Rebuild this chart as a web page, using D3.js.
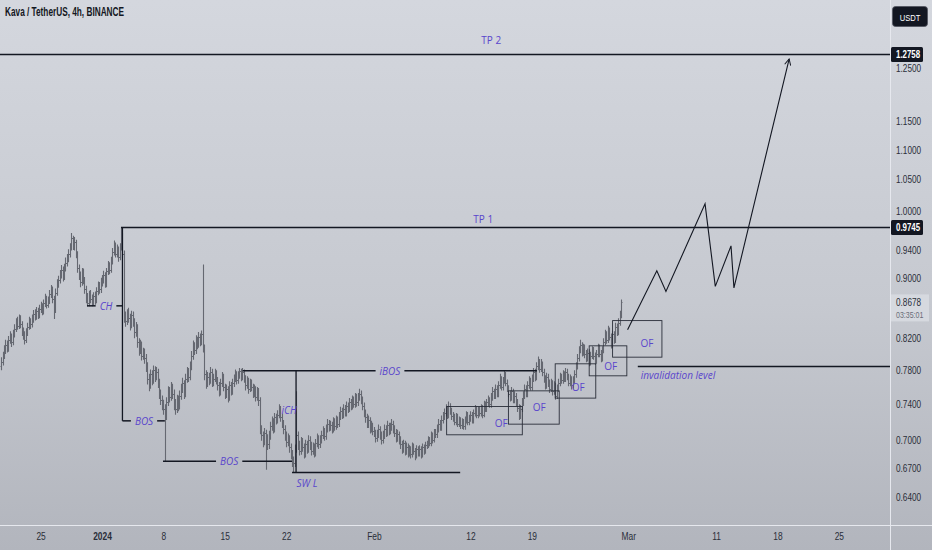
<!DOCTYPE html>
<html>
<head>
<meta charset="utf-8">
<script src="https://cdn.jsdelivr.net/npm/d3@7"></script>
<style>
  body { margin: 0; overflow: hidden; }
  svg { display: block; }
</style>
</head>
<body>
<div id="chart"></div>
<script>
// prices x 1000, one row per day, 4h bars starting Dec 20 2023 12:00 UTC
const firstOpen = 785;
const closes = [
  790,798,805,
  812,808,818,822,815,826,
  832,840,836,845,838,829,
  824,818,828,835,842,838,
  845,852,848,856,850,858,
  862,855,866,872,864,870,
  878,885,872,858,880,892,
  898,905,912,902,915,922,
  928,935,944,958,946,952,
  935,915,905,895,910,898,
  885,874,866,878,872,868,
  876,870,882,890,885,895,
  898,905,892,910,918,912,
  925,938,948,935,942,930,
  945,962,935,848,842,852,
  846,838,850,842,828,835,
  815,805,812,798,802,795,
  785,770,762,775,768,780,
  772,778,765,752,745,740,
  735,728,742,755,748,760,
  752,740,735,745,738,750,
  758,765,752,770,778,772,
  785,798,810,805,818,812,
  822,815,825,808,775,765,
  772,768,778,765,770,776,
  768,762,755,765,772,760,
  752,758,748,762,755,765,
  770,776,768,774,779,772,
  778,770,762,768,758,765,
  760,752,758,748,755,745,
  712,705,698,708,702,695,
  705,715,720,712,725,722,
  728,735,725,718,712,705,
  698,702,692,685,678,675,
  690,705,695,688,698,692,
  685,695,690,700,694,688,
  692,686,696,702,695,700,
  705,710,704,712,718,714,
  716,712,720,715,722,718,
  726,732,728,735,730,738,
  735,742,738,745,740,748,
  742,748,752,745,738,730,
  725,718,722,712,716,710,
  708,702,706,712,705,700,
  705,712,708,716,710,714,
  718,712,708,702,706,700,
  695,690,696,688,692,686,
  690,685,692,688,683,690,
  686,690,684,692,688,694,
  695,700,697,705,700,708,
  706,712,718,714,722,726,
  730,735,728,738,732,727,
  725,720,726,718,722,716,
  720,715,722,728,720,724,
  728,722,730,735,728,733,
  730,736,728,740,735,742,
  745,740,748,755,750,758,
  752,762,770,760,768,775,
  765,758,752,748,755,745,
  750,742,736,728,735,742,
  750,758,752,762,768,760,
  770,778,772,785,790,782,
  788,778,770,762,772,765,
  758,765,755,762,750,758,
  765,772,768,775,770,778,
  772,765,770,762,768,775,
  785,795,805,812,802,808,
  800,795,802,790,798,805,
  798,792,800,808,800,795,
  805,815,825,818,830,822,
  812,825,818,835,828,840,
  850,867.8
];
const highs = [
  796,803,811,
  818,817,823,829,826,831,
  838,846,848,851,850,842,
  834,829,833,840,848,846,
  851,857,858,861,860,864,
  868,866,871,879,876,875,
  884,891,889,876,886,899,
  904,912,919,917,921,930,
  935,942,951,966,962,960,
  956,939,920,910,915,914,
  902,890,880,883,884,878,
  881,882,888,896,895,901,
  905,911,909,915,925,923,
  931,944,955,952,949,946,
  951,974.5,966,940,855,858,
  860,852,856,855,846,841,
  838,820,818,816,808,807,
  800,790,776,781,780,786,
  785,784,782,770,757,750,
  745,740,748,761,760,766,
  764,757,746,751,750,756,
  764,771,768,776,784,783,
  791,804,817,815,824,822,
  828,826,830,920,812,780,
  778,777,784,782,776,782,
  780,772,766,770,778,776,
  764,763,761,767,766,770,
  775,781,779,779,783,782,
  783,781,774,773,771,770,
  769,764,763,761,760,759,
  748,716,709,713,711,706,
  710,720,726,724,730,729,
  733,740,738,729,722,716,
  709,707,705,696,689,682,
  695,755,709,699,703,702,
  696,700,699,705,704,698,
  697,696,701,707,705,705,
  710,715,713,717,723,722,
  721,720,725,724,727,726,
  731,737,736,740,739,743,
  742,747,746,750,749,753,
  752,753,758,756,749,742,
  734,729,727,725,721,719,
  714,711,711,717,715,709,
  710,717,716,721,719,719,
  723,721,716,712,711,709,
  704,699,700,699,697,696,
  694,693,697,696,691,694,
  693,694,693,696,695,698,
  699,704,703,709,708,712,
  712,717,723,722,727,731,
  735,740,738,743,741,736,
  731,729,730,729,726,725,
  724,723,726,732,731,728,
  732,731,734,739,738,737,
  737,740,739,744,743,746,
  750,748,753,760,758,763,
  762,767,776,773,772,780,
  778,769,762,756,760,758,
  755,753,746,740,739,747,
  755,763,762,767,773,771,
  775,783,782,790,797,794,
  794,791,782,774,777,776,
  769,770,768,767,765,763,
  770,777,776,780,779,783,
  782,776,775,773,773,780,
  790,800,810,818,815,813,
  812,805,807,806,803,810,
  809,802,805,813,812,805,
  810,820,831,829,836,834,
  826,830,829,840,839,846,
  856,871
];
const lows = [
  780,786,794,
  800,802,803,813,809,811,
  821,828,831,832,833,823,
  818,812,814,823,831,832,
  834,840,843,844,845,846,
  853,850,851,861,859,860,
  865,873,866,845,853,876,
  887,893,900,896,898,910,
  917,923,930,940,941,940,
  929,908,898,888,890,892,
  879,866,862,862,866,862,
  863,864,866,877,879,880,
  889,893,887,888,905,906,
  908,920,933,930,930,924,
  926,940,930,840,835,837,
  840,830,833,835,820,822,
  808,798,800,792,793,788,
  778,763,755,758,762,764,
  766,768,759,746,739,733,
  728,677,722,738,742,744,
  746,733,728,730,732,734,
  745,753,746,748,765,766,
  768,780,793,799,800,806,
  808,810,811,802,768,758,
  760,762,764,760,761,766,
  763,756,749,750,760,755,
  746,747,742,744,750,751,
  760,766,763,764,770,767,
  768,765,756,758,752,754,
  755,747,748,743,744,738,
  706,699,692,694,668,689,
  690,700,710,707,708,717,
  718,724,720,713,706,699,
  692,693,686,679,671,665,
  671,686,689,683,684,687,
  680,681,685,686,689,683,
  684,681,682,692,690,691,
  696,701,699,700,708,709,
  710,707,708,710,711,713,
  714,722,723,724,726,726,
  730,731,733,734,736,736,
  737,738,744,740,733,725,
  719,713,713,707,708,705,
  703,697,698,702,700,695,
  696,701,703,704,705,706,
  710,707,703,697,698,695,
  690,685,686,683,684,681,
  682,680,681,684,678,680,
  682,682,680,681,684,685,
  690,691,693,693,696,697,
  702,702,708,710,710,718,
  722,726,723,724,728,722,
  720,716,716,714,714,712,
  712,711,711,718,716,716,
  720,718,718,726,724,724,
  726,726,724,725,731,731,
  738,736,736,744,746,746,
  748,748,758,756,756,764,
  761,754,748,743,744,741,
  741,738,731,722,723,731,
  738,746,748,748,758,756,
  756,766,767,768,780,777,
  778,773,765,757,758,760,
  753,754,750,751,745,746,
  754,761,764,764,766,766,
  768,761,761,757,758,764,
  771,781,791,801,797,798,
  795,790,791,785,786,794,
  793,787,788,796,796,790,
  791,801,811,813,814,817,
  807,808,813,814,823,824,
  836,846
];

const t = (y, m, d, h = 0) => new Date(Date.UTC(y, m - 1, d, h));
const firstBar = t(2023, 12, 20, 12);
const barHours = 4;

// axis ticks
const dateTicks = [t(2023,12,25), t(2024,1,1), t(2024,1,8), t(2024,1,15), t(2024,1,22), t(2024,2,1),
                   t(2024,2,12), t(2024,2,19), t(2024,3,1), t(2024,3,11), t(2024,3,18), t(2024,3,25)];
const dateLabels = ["25", "2024", "8", "15", "22", "Feb", "12", "19", "Mar", "11", "18", "25"];
const priceTicks = [1.25, 1.15, 1.10, 1.05, 1.00, 0.94, 0.90, 0.82, 0.78, 0.74, 0.70, 0.67, 0.64];

// drawings
const tp2 = 1.2758, tp1 = 0.9745, lastPrice = 0.8678;
const tpLabels = [
  {text: "TP 2", date: t(2024,2,14,9), price: 1.305},
  {text: "TP 1", date: t(2024,2,13,11), price: 0.9876}
];
const structureLines = [   // horizontal lines with the label set in a gap
  {text: "CH",   from: t(2023,12,30,7), to: t(2024,1,3,8),   price: 0.8625, at: t(2024,1,1,11)},
  {text: "BOS",  from: t(2024,1,3,8),   to: t(2024,1,8,4),   price: 0.721,  at: t(2024,1,5,19)},
  {text: "BOS",  from: t(2024,1,7,23),  to: t(2024,1,22,16), price: 0.677,  at: t(2024,1,15,12)},
  {text: "iBOS", from: t(2024,1,17,1),  to: t(2024,2,19,14), price: 0.7794, at: t(2024,2,2,20)}
];
const plainLines = [
  {from: t(2024,1,22,16), to: t(2024,2,10,20), price: 0.6653}
];
const verticals = [
  {date: t(2024,1,3,8),  top: 0.9745, bottom: 0.721},
  {date: t(2024,1,23,3), top: 0.7794, bottom: 0.6653}
];
const freeLabels = [
  {text: "iCH",  date: t(2024,1,22,8), price: 0.733},
  {text: "SW L", date: t(2024,1,24,9), price: 0.6547}
];
const ofBoxes = [
  {from: t(2024,2,9,7),   to: t(2024,2,17,22), hi: 0.7373, lo: 0.7055, ld: t(2024,2,15,12), lp: 0.719},
  {from: t(2024,2,16,8),  to: t(2024,2,22,3),  hi: 0.7555, lo: 0.7173, ld: t(2024,2,19,20), lp: 0.737},
  {from: t(2024,2,21,16), to: t(2024,2,26,7),  hi: 0.788,  lo: 0.747,  ld: t(2024,2,24,7),  lp: 0.760},
  {from: t(2024,2,25,13), to: t(2024,2,29,20), hi: 0.8104, lo: 0.7734, ld: t(2024,2,28,0),  lp: 0.7855},
  {from: t(2024,2,28,5),  to: t(2024,3,4,20),  hi: 0.8429, lo: 0.7962, ld: t(2024,3,3,3),   lp: 0.814}
];
const invalidation = {from: t(2024,3,2,2), price: 0.7847, ld: t(2024,3,2,10), lp: 0.7745};
const projDates = [t(2024,2,29,22), t(2024,3,4,6), t(2024,3,5,7), t(2024,3,9,18), t(2024,3,10,22),
                   t(2024,3,12,17), t(2024,3,13,1), t(2024,3,19,8)];
const projPrices = [0.831, 0.911, 0.882, 1.011, 0.889, 0.947, 0.887, 1.267];

// layout
const W = 932, H = 550, plotW = 890, plotH = 525;
const ink = "#131722", purple = "#5a46cc", barColor = "#656871";
const axisFont = "'Liberation Sans', Arial, sans-serif";

// squeeze a text to the narrow face the reference uses
const condense = (sel, k) => sel.each(function() {
  const len = this.getComputedTextLength();
  d3.select(this).attr("textLength", len * k).attr("lengthAdjust", "spacingAndGlyphs");
});

const svg = d3.select("#chart").append("svg").attr("width", W).attr("height", H)
  .style("font-family", axisFont);

const defs = svg.append("defs");
const grad = defs.append("linearGradient").attr("id", "bg").attr("x1", 0).attr("y1", 0).attr("x2", 0).attr("y2", 1);
grad.append("stop").attr("offset", "0%").attr("stop-color", "#d4d7de");
grad.append("stop").attr("offset", "55%").attr("stop-color", "#c6c9d0");
grad.append("stop").attr("offset", "100%").attr("stop-color", "#b2b5bd");
defs.append("clipPath").attr("id", "plot").append("rect").attr("width", plotW).attr("height", plotH);
defs.append("marker").attr("id", "arrow").attr("viewBox", "0 0 10 10").attr("refX", 9).attr("refY", 5)
  .attr("markerWidth", 7).attr("markerHeight", 7).attr("orient", "auto")
  .append("path").attr("d", "M1,1 L9,5 L1,9").attr("fill", "none").attr("stroke", ink).attr("stroke-width", 1.3);

svg.append("rect").attr("width", W).attr("height", H).attr("fill", "url(#bg)");

const x = d3.scaleUtc().domain([t(2023,12,20,9), t(2024,3,30,20)]).range([0, plotW]);
const y = d3.scaleLog().domain([0.613, 1.389]).range([plotH, 0]);

// separators
svg.append("line").attr("x1", plotW + 0.5).attr("x2", plotW + 0.5).attr("y1", 0).attr("y2", H)
  .attr("stroke", "#e6e8ee").attr("stroke-width", 1);
svg.append("line").attr("x1", 0).attr("x2", W).attr("y1", plotH + 0.5).attr("y2", plotH + 0.5)
  .attr("stroke", "#e6e8ee").attr("stroke-width", 1);

const plot = svg.append("g").attr("clip-path", "url(#plot)");

// OHLC bars
const bars = closes.map((c, i) => ({
  date: new Date(firstBar.getTime() + i * barHours * 3600e3),
  open: (i === 0 ? firstOpen : closes[i - 1]) / 1000,
  high: highs[i] / 1000, low: lows[i] / 1000, close: c / 1000
}));
plot.append("path")
  .attr("fill", "none").attr("stroke", barColor).attr("stroke-width", 1.1)
  .attr("d", bars.map(b => {
    const bx = Math.round(x(b.date)) + 0.5;
    const yo = Math.round(y(b.open)) + 0.5, yc = Math.round(y(b.close)) + 0.5;
    return `M${bx},${y(b.high)}V${y(b.low)}M${bx - 1},${yo}H${bx}M${bx},${yc}H${bx + 1}`;
  }).join(""));

// horizontal TP lines
plot.append("line").attr("x1", 0).attr("x2", plotW).attr("y1", y(tp2)).attr("y2", y(tp2))
  .attr("stroke", ink).attr("stroke-width", 1.5);
plot.append("line").attr("x1", x(t(2024,1,3,4))).attr("x2", plotW).attr("y1", y(tp1)).attr("y2", y(tp1))
  .attr("stroke", ink).attr("stroke-width", 1.5);

const labelText = (g, text, lx, ly, italic) => g.append("text").text(text)
  .attr("x", lx).attr("y", ly).attr("text-anchor", "middle").attr("dominant-baseline", "central")
  .attr("fill", purple).attr("font-size", 10).attr("font-family", "'Open Sans', sans-serif")
  .attr("font-style", italic ? "italic" : "normal");

tpLabels.forEach(d => labelText(plot, d.text, x(d.date), y(d.price), false));

structureLines.forEach(d => {
  const ly = y(d.price), lx = x(d.at);
  const txt = labelText(plot, d.text, lx, ly, true);
  const w = txt.node().getComputedTextLength() / 2 + 4;
  plot.append("line").attr("x1", x(d.from)).attr("x2", lx - w).attr("y1", ly).attr("y2", ly)
    .attr("stroke", ink).attr("stroke-width", 1.5);
  plot.append("line").attr("x1", lx + w).attr("x2", x(d.to)).attr("y1", ly).attr("y2", ly)
    .attr("stroke", ink).attr("stroke-width", 1.5);
});
plainLines.forEach(d => plot.append("line").attr("x1", x(d.from)).attr("x2", x(d.to))
  .attr("y1", y(d.price)).attr("y2", y(d.price)).attr("stroke", ink).attr("stroke-width", 1.5));
verticals.forEach(d => plot.append("line").attr("x1", x(d.date)).attr("x2", x(d.date))
  .attr("y1", y(d.top)).attr("y2", y(d.bottom)).attr("stroke", ink).attr("stroke-width", 1.3));
freeLabels.forEach(d => labelText(plot, d.text, x(d.date), y(d.price), true));

// order-flow boxes
ofBoxes.forEach(d => {
  plot.append("rect").attr("x", x(d.from)).attr("y", y(d.hi))
    .attr("width", x(d.to) - x(d.from)).attr("height", y(d.lo) - y(d.hi))
    .attr("fill", "none").attr("stroke", "#2a2e39").attr("stroke-width", 0.9);
  labelText(plot, "OF", x(d.ld), y(d.lp), false);
});

// invalidation level
plot.append("line").attr("x1", x(invalidation.from)).attr("x2", plotW)
  .attr("y1", y(invalidation.price)).attr("y2", y(invalidation.price))
  .attr("stroke", ink).attr("stroke-width", 1.5);
labelText(plot, "invalidation level", x(invalidation.ld), y(invalidation.lp), true)
  .attr("text-anchor", "start").attr("font-size", 10);

// projected path
plot.append("path").datum(projDates.map((d, i) => [x(d), y(projPrices[i])]))
  .attr("d", d3.line()).attr("fill", "none").attr("stroke", ink).attr("stroke-width", 1.1)
  .attr("marker-end", "url(#arrow)");

// price axis
const yAxis = svg.append("g").attr("transform", `translate(${plotW},0)`)
  .call(d3.axisRight(y).tickValues(priceTicks).tickFormat(d3.format(".4f")).tickSize(0).tickPadding(6));
yAxis.select(".domain").remove();
yAxis.selectAll("text").attr("fill", "#2a2e39").attr("font-size", 10.5).attr("font-family", axisFont)
  .call(condense, 0.78);

const badge = (price, fill, color, w) => {
  const g = svg.append("g").attr("transform", `translate(${plotW + 1},${y(price)})`);
  g.append("rect").attr("x", 0).attr("y", -7.5).attr("width", w).attr("height", 15).attr("rx", 1.5).attr("fill", fill);
  g.append("text").text(d3.format(".4f")(price)).attr("x", 5).attr("dy", "0.35em")
    .attr("fill", color).attr("font-size", 10.5).attr("font-weight", "bold").attr("font-family", axisFont)
    .call(condense, 0.75);
  return g;
};
badge(tp2, "#131722", "#ffffff", 32);
badge(tp1, "#131722", "#ffffff", 32);
const lp = svg.append("g").attr("transform", `translate(${plotW + 1},${y(lastPrice)})`);
lp.append("rect").attr("x", 0).attr("y", -7.5).attr("width", 38).attr("height", 27).attr("fill", "#d6d9df");
lp.append("text").text(d3.format(".4f")(lastPrice)).attr("x", 5).attr("dy", "0.35em")
  .attr("fill", "#2a2e39").attr("font-size", 10.5).attr("font-family", axisFont).call(condense, 0.78);
lp.append("text").text("03:35:01").attr("x", 5).attr("y", 12.5).attr("dy", "0.35em")
  .attr("fill", "#6a6d78").attr("font-size", 9.5).attr("font-family", axisFont).call(condense, 0.74);

// currency button
svg.append("rect").attr("x", 892.5).attr("y", 6.5).attr("width", 35).attr("height", 20).attr("rx", 3)
  .attr("fill", "#131722").attr("stroke", "#50535e").attr("stroke-width", 0.8);
svg.append("text").text("USDT").attr("x", 910).attr("y", 17).attr("text-anchor", "middle")
  .attr("dominant-baseline", "central").attr("fill", "#ffffff").attr("font-size", 9.5).attr("font-family", axisFont)
  .call(condense, 0.8);

// time axis
const xAxis = svg.append("g").attr("transform", `translate(0,${plotH})`)
  .call(d3.axisBottom(x).tickValues(dateTicks).tickFormat((d, i) => dateLabels[i]).tickSize(0).tickPadding(8));
xAxis.select(".domain").remove();
xAxis.selectAll("text").attr("fill", "#2a2e39").attr("font-size", 10.5).attr("font-family", axisFont)
  .attr("font-weight", (d, i) => dateLabels[i] === "2024" ? "bold" : "normal")
  .call(condense, 0.8);

// title
svg.append("text").text("Kava / TetherUS, 4h, BINANCE").attr("x", 5).attr("y", 16)
  .attr("fill", ink).attr("font-size", 12).attr("font-weight", "bold").attr("font-family", axisFont)
  .attr("textLength", 119).attr("lengthAdjust", "spacingAndGlyphs");
</script>
</body>
</html>
